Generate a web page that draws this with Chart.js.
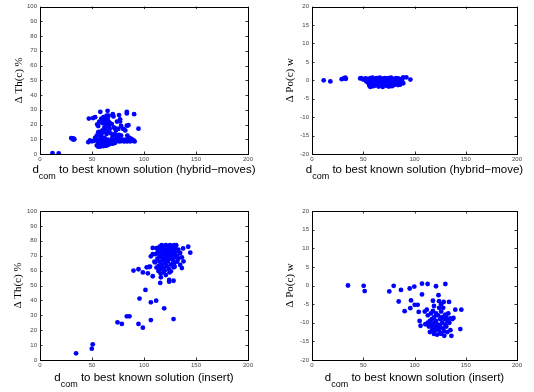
<!DOCTYPE html>
<html>
<head>
<meta charset="utf-8">
<script src="https://cdn.jsdelivr.net/npm/chart.js@4.4.0/dist/chart.umd.min.js"></script>
<style>
html,body{margin:0;padding:0;background:#fff;}
body{width:534px;height:392px;position:relative;overflow:hidden;}
canvas{position:absolute;}
</style>
</head>
<body>
<canvas id="c1" width="267" height="196" style="left:0;top:0"></canvas>
<canvas id="c2" width="267" height="196" style="left:267px;top:0"></canvas>
<canvas id="c3" width="267" height="196" style="left:0;top:196px"></canvas>
<canvas id="c4" width="267" height="196" style="left:267px;top:196px"></canvas>
<script>
// ---- tick labels / axis ranges ----
const xTicks = [0, 50, 100, 150, 200];
const thTicks = [0, 10, 20, 30, 40, 50, 60, 70, 80, 90, 100];
const poTicks = [-20, -15, -10, -5, 0, 5, 10, 15, 20];

// ---- axis titles ----
const xTitleMain = "d";
const xTitleSub = "com";
const xTitles = [" to best known solution (hybrid\u2212moves)", " to best known solution (hybrid\u2212move)",
                 " to best known solution (insert)", " to best known solution (insert)"];
const yTitles = ["\u0394 Th(c) %", "\u0394 Po(c) w", "\u0394 Th(c) %", "\u0394 Po(c) w"];

// ---- data: top-left (hybrid-moves, ΔTh) ----
const hybThX = [12,18,30,31,32,33,32,47,51,53,46.5,48,50,
  55,56,57,58,59,60,60,61,61,62,63,63,64,64,65,65,66,66,66,67,67,68,69,70,70.6,71,72,73,74,75.4,76,77,78,80,82,83.5,83.5,83.5,85,90.5,94.7,84,86,74,77,
  54.6,56,57,58,59,60,61,62,63,64,58,62,65,68,70,72,74,76,78,
  52,53,55,56,57,59,60,61,62,63,64,65,66,67,68,69,70,71,72,73,74,75,75.4,76,77,78,79,80,81,82,83,84,85,86,87,88,89,90,91,
  54.6,56,57,58,59,60,61,62,63,64,65,66,67,68,70,72];
const hybThY = [0.6,0.4,10.8,10.4,10.6,10,9.8,24,24.4,25,8,9.2,8.6,
  20,19,22,28.6,24,23,21,22.6,25,24.5,23,20,26,21,29.3,24,26,22,19,21,17,20.5,20.3,27,25.5,18,17.4,16,17,17,26.4,22,19,17,16,19.2,28.6,27.5,19.5,27,17.2,12.5,11,22,23.5,
  12.5,14.8,15,14.8,13,16,15,18,17,13.5,12,11,15,14,12,13.5,11.5,13,12.5,
  9,11,9.5,8,9.5,8.5,10,9,8,9.5,8.5,9.8,8,9,8.5,10,9,8,9.5,8.7,10,9,10.3,8.5,9.5,8.7,9.8,9,8.5,9.8,9,8.5,10.3,9,8.6,10.3,9,9.2,8.5,
  5.8,5,6.5,5.1,6,5.5,5.4,6.8,5.5,6.9,6,6.5,7.4,7,7,7.5];

// ---- data: top-right (hybrid-move, ΔPo) ----
const hybPoX = [11.4,17.9,29,31,32.5,33,47,48,50,
  52,53,54,55,56,56,57,57,58,58,59,59,60,60,61,61,62,62,63,63,64,64,65,65,66,66,67,67,68,68,69,69,70,70,71,71,72,72,73,73,74,74,75,75,76,76,77,77,78,78,79,79,80,80,81,82,82,83,84,84,85,86,86,87,88,89,89,92,96,
  54,58,62,66,70,74,78,82,86,60,64,68,72,76,80];
const hybPoY = [0,-0.3,0.3,0.5,0.7,0.4,0.5,0.6,0.2,
  0.5,-0.3,0.4,-0.8,0.3,-1.5,-1.8,0.6,-0.5,0.2,-1.2,0.7,-0.2,-1.6,0.4,-0.8,-1.4,0.1,0.6,-0.6,-1.1,0.3,-0.3,-1.7,0.7,-0.9,0.2,-1.4,-0.5,0.5,-1.0,-1.8,0.3,-0.4,-1.3,0.6,-0.7,0.1,-1.5,0.5,-0.2,-1.0,0.6,-1.7,-0.5,0.2,-1.2,0.7,-0.3,-1.6,0.4,-0.8,-1.3,0.3,-0.4,0.6,-1.0,-0.2,0.5,-1.3,-0.6,0.3,-1.2,-0.3,0.2,0.8,-0.8,0.8,0.2,
  -0.2,-0.9,-0.6,-0.1,-1.1,-0.5,0.0,-0.5,-0.7,0.0,-0.4,-1.2,-0.9,-1.1,-0.6];

// ---- data: bottom-left (insert, ΔTh) ----
const insThX = [34.7,49.8,50.7,74.5,78.7,83.5,86,94.7,98.9,106.6,128.4,95.7,106.6,111.7,119.4,101.4,115.6,124.2,124.2,128.4,
  89.9,94.7,98.9,103.7,102.6,104.8,105.8,108.4,113.9,116.2,118.8,121,124.5,125.8,128.4,129.5,127.5,134.8,136.4,138,136.4,134.8,137.6,142.5,144.5,106.6,108.4,108.4,110.8,
  112,113,113,114,114,115,115,115,116,116,117,117,117,118,118,118,119,119,119,120,120,121,121,121,122,122,123,123,123,124,124,124,125,125,126,126,126,127,127,128,128,129,129,129,130,130,131,131,132,132,133,133,120,116,112,110,111];
const insThY = [4.5,7.6,10.5,25.3,24.2,29.3,29.3,24.2,21.7,26.8,27.5,41.2,38.7,39.8,34.7,47,51.7,52.6,53.7,53.2,
  60,60.9,58.8,58.2,62.2,62.4,62.6,56.2,59.7,55.5,58.8,57,58.8,59.5,62.2,62.6,64.4,63.8,61.7,66.2,68.9,71.8,74.9,76,72,69.6,71,75.2,65.5,
  75,72,68,74,63,76,70,66,73,61,77,69,64,75,71,67,76,73,62,70,65,77,74,68,72,63,76,69,66,74,71,61,77,68,75,72,64,76,70,73,67,77,71,65,75,69,73,77,70,66,74,68,60,58,62,66,71];

// ---- data: bottom-right (insert, ΔPo) ----
const insPoX = [35.1,50.4,51.4,75.4,79.7,86.8,84.6,95.3,99.8,96.6,95.9,90.4,100.2,103.1,104.1,107.3,107.3,112.8,121,130.1,123.4,118,128.5,133.7,139.8,145.7,144.7,136,129.1,105,105.9,110.6,
  110,112,113,114,115,115,116,116,117,117,118,118,119,119,120,120,121,121,122,122,123,123,124,124,125,125,126,126,127,127,128,128,129,129,130,130,131,131,132,132,133,134,135,135,137,138,126,124,119,113,117,121,125];
const insPoY = [0,-0.1,-1.5,-1.6,-0.1,-1.2,-4.3,-0.8,-0.3,-4,-6.1,-6.9,-5.2,-5.2,-7.1,0.5,-2.4,0.4,-0.2,0.4,-2.6,-4.1,-4.4,-4.4,-6.5,-6.5,-11.7,-13.5,-13.5,-9.5,-10.8,-10.4,
  -7,-6.5,-8,-11,-9.5,-12.5,-7.5,-10.5,-9,-12,-6.8,-11,-8.5,-13,-10,-12,-7.5,-9.5,-11,-13.2,-8,-10.5,-6,-12,-9,-11,-7,-13,-10,-8.5,-11.5,-6,-9,-12.3,-7.8,-10.5,-8.5,-11,-9.5,-12.5,-7.5,-10,-8.8,-12,-9,-8.7,-5,-4.2,-5.5,-10,-10.2,-11.8,-12.8];

function toPts(xs, ys){ return xs.map((x,i)=>({x:x, y:ys[i]})); }

const boxPlugin = {
  id: 'boxPlugin',
  afterDraw(chart, args, o) {
    const ctx = chart.ctx;
    const a = chart.chartArea;
    const xs = chart.scales.x, ys = chart.scales.y;
    ctx.save();
    ctx.strokeStyle = '#000';
    ctx.lineWidth = 1;
    ctx.strokeRect(Math.round(a.left)+0.5, Math.round(a.top)+0.5, Math.round(a.right-a.left), Math.round(a.bottom-a.top));
    ctx.lineWidth = 0.8;
    ctx.beginPath();
    const tl = 2.5;
    xs.ticks.forEach(t => {
      const px = Math.round(xs.getPixelForValue(t.value))+0.5;
      ctx.moveTo(px, a.bottom); ctx.lineTo(px, a.bottom - tl);
      ctx.moveTo(px, a.top); ctx.lineTo(px, a.top + tl);
    });
    ys.ticks.forEach(t => {
      const py = Math.round(ys.getPixelForValue(t.value))+0.5;
      ctx.moveTo(a.left, py); ctx.lineTo(a.left + tl, py);
      ctx.moveTo(a.right, py); ctx.lineTo(a.right - tl, py);
    });
    ctx.stroke();
    // x title with subscript
    ctx.fillStyle = '#000';
    ctx.textBaseline = 'alphabetic';
    const mainFont = '11.5px "Liberation Sans", Arial, sans-serif';
    const subFont = '9px "Liberation Sans", Arial, sans-serif';
    ctx.font = mainFont;
    const wd = ctx.measureText(xTitleMain).width;
    const wr = ctx.measureText(o.xTitle).width;
    ctx.font = subFont;
    const ws = ctx.measureText(xTitleSub).width;
    const total = wd + ws + wr;
    let x0 = (a.left + a.right)/2 - total/2;
    const by = a.bottom + o.xTitleOffset;
    ctx.font = mainFont; ctx.textAlign = 'left';
    ctx.fillText(xTitleMain, x0, by);
    ctx.font = subFont;
    ctx.fillText(xTitleSub, x0 + wd, by + 5.5);
    ctx.font = mainFont;
    ctx.fillText(o.xTitle, x0 + wd + ws, by);
    // y title
    ctx.save();
    ctx.translate(o.yTitleX, (a.top + a.bottom)/2);
    ctx.rotate(-Math.PI/2);
    ctx.font = '11px "Liberation Serif", "Times New Roman", serif';
    ctx.textAlign = 'center';
    ctx.textBaseline = 'middle';
    ctx.fillText(o.yTitle, 0, 0);
    ctx.restore();
    ctx.restore();
  }
};

function makeChart(id, pts, yMin, yMax, yStep, m, idx) {
  return new Chart(document.getElementById(id), {
    type: 'scatter',
    data: { datasets: [{ data: pts, backgroundColor: '#0000ff', borderWidth: 0, pointRadius: 2.4, pointHoverRadius: 2.4 }] },
    options: {
      responsive: false,
      animation: false,
      devicePixelRatio: 1,
      layout: { padding: { left: 0, top: m.top, right: m.right, bottom: 0 } },
      plugins: {
        legend: { display: false },
        tooltip: { enabled: false },
        boxPlugin: { xTitle: xTitles[idx], yTitle: yTitles[idx], yTitleX: m.yTitleX, xTitleOffset: m.xTitleOffset }
      },
      scales: {
        x: {
          type: 'linear', min: xTicks[0], max: xTicks[xTicks.length-1],
          afterBuildTicks: s => { s.ticks = xTicks.map(v => ({value: v})); },
          grid: { display: false, drawTicks: false },
          border: { display: false },
          ticks: { font: { size: 6, family: '"Liberation Sans", Arial, sans-serif' }, color: '#444', padding: 2, maxRotation: 0, autoSkip: false },
          afterFit: s => { s.height = m.bottom; }
        },
        y: {
          type: 'linear', min: yMin, max: yMax,
          afterBuildTicks: s => { s.ticks = (yMin === 0 ? thTicks : poTicks).map(v => ({value: v})); },
          grid: { display: false, drawTicks: false },
          border: { display: false },
          ticks: { font: { size: 6, family: '"Liberation Sans", Arial, sans-serif' }, color: '#444', padding: 3, autoSkip: false },
          afterFit: s => { s.width = m.left; }
        }
      }
    },
    plugins: [boxPlugin]
  });
}

makeChart('c1', toPts(hybThX, hybThY), 0, 100, 10, {left:40, top:5, right:19, bottom:42, yTitleX:19, xTitleOffset:19}, 0);
makeChart('c2', toPts(hybPoX, hybPoY), -20, 20, 5, {left:45, top:5, right:17, bottom:42, yTitleX:23, xTitleOffset:19}, 1);
makeChart('c3', toPts(insThX, insThY), 0, 100, 10, {left:40, top:15, right:19, bottom:32, yTitleX:18, xTitleOffset:21}, 2);
makeChart('c4', toPts(insPoX, insPoY), -20, 20, 5, {left:45, top:15, right:17, bottom:32, yTitleX:23, xTitleOffset:21}, 3);
</script>
</body>
</html>
